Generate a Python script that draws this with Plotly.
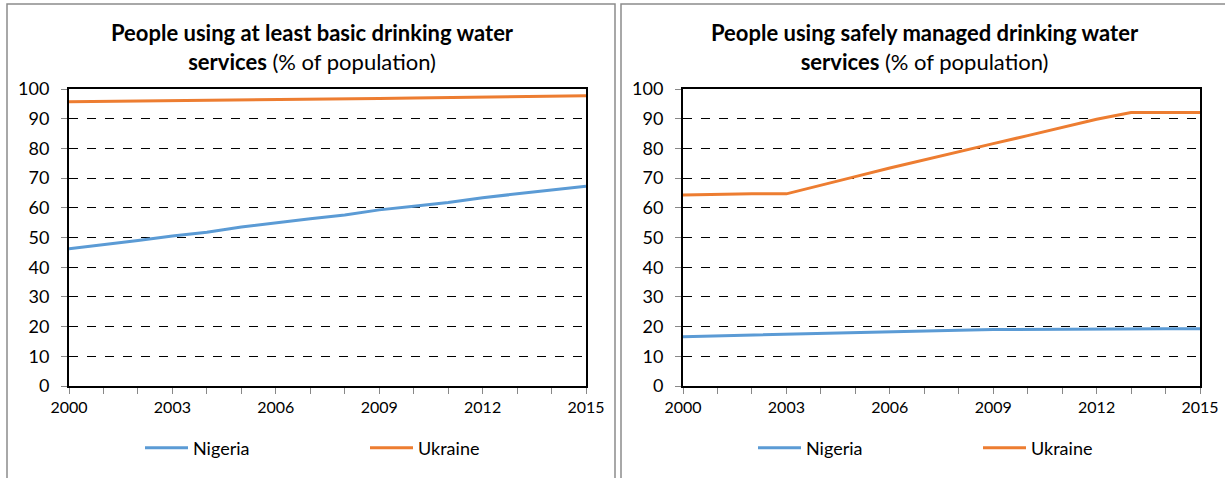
import plotly.graph_objects as go

years = list(range(2000, 2016))

basic_nigeria = [46.2, 47.5, 49.0, 50.5, 51.8, 53.5, 55.0, 56.3, 57.6, 59.3, 60.5, 61.8, 63.4, 64.8, 66.0, 67.3]
basic_ukraine = [95.7, 95.8, 96.0, 96.1, 96.2, 96.3, 96.4, 96.6, 96.7, 96.8, 97.0, 97.1, 97.3, 97.5, 97.6, 97.7]

safe_nigeria = [16.6, 16.9, 17.2, 17.5, 17.8, 18.1, 18.4, 18.6, 18.8, 19.0, 19.1, 19.2, 19.2, 19.3, 19.3, 19.3]
safe_ukraine = [64.3, 64.6, 64.7, 64.7, 67.5, 70.5, 73.4, 76.2, 78.9, 81.6, 84.3, 87.0, 89.8, 92.1, 92.1, 92.1]

tick_vals = years
tick_text = [str(y) if (y - 2000) % 3 == 0 else "" for y in years]
y_ticks = list(range(0, 101, 10))

titles = [
    "<b>People using at least basic drinking water</b><br><b>services</b> (% of population)",
    "<b>People using safely managed drinking water</b><br><b>services</b> (% of population)",
]

BLUE = "#5B9BD5"
ORANGE = "#ED7D31"
FONT = "Lato"
W, H = 1225, 478

fig = go.Figure()

fig.add_trace(go.Scatter(x=years, y=basic_nigeria, name="Nigeria", mode="lines",
                         line=dict(color=BLUE, width=3), xaxis="x", yaxis="y", legend="legend"))
fig.add_trace(go.Scatter(x=years, y=basic_ukraine, name="Ukraine", mode="lines",
                         line=dict(color=ORANGE, width=3), xaxis="x", yaxis="y", legend="legend"))
fig.add_trace(go.Scatter(x=years, y=safe_nigeria, name="Nigeria", mode="lines",
                         line=dict(color=BLUE, width=3), xaxis="x2", yaxis="y2", legend="legend2"))
fig.add_trace(go.Scatter(x=years, y=safe_ukraine, name="Ukraine", mode="lines",
                         line=dict(color=ORANGE, width=3), xaxis="x2", yaxis="y2", legend="legend2"))

ydom = [1 - 386 / H, 1 - 89 / H]

def xaxis(dom, anchor):
    return dict(domain=dom, anchor=anchor, range=[2000, 2015], tickmode="array",
                tickvals=tick_vals, ticktext=tick_text, ticks="outside", ticklen=6,
                tickcolor="#888888", tickwidth=1, showgrid=False, zeroline=False,
                showline=True, linecolor="black", linewidth=2, mirror=True,
                tickfont=dict(family=FONT, size=16, color="black"))

def yaxis(anchor):
    return dict(domain=ydom, anchor=anchor, range=[0, 100], tickmode="array",
                tickvals=y_ticks, ticks="outside", ticklen=6, tickcolor="#888888",
                tickwidth=1, showgrid=True, gridcolor="black", gridwidth=1, griddash="dash",
                zeroline=False, showline=True, linecolor="black", linewidth=2, mirror=True,
                ticklabelstandoff=8,
                tickfont=dict(family=FONT, size=18, color="black"))

legend_common = dict(orientation="h", yanchor="middle", y=1 - 448 / H, xanchor="left",
                     font=dict(family=FONT, size=18, color="black"), itemwidth=43,
                     entrywidth=167, entrywidthmode="pixels", bgcolor="rgba(0,0,0,0)")

fig.update_layout(
    width=W, height=H, margin=dict(l=0, r=0, t=0, b=0, autoexpand=False),
    paper_bgcolor="white", plot_bgcolor="white",
    xaxis=xaxis([69 / W, 586 / W], "y"),
    yaxis=yaxis("x"),
    xaxis2=xaxis([683 / W, 1200 / W], "y2"),
    yaxis2=yaxis("x2"),
    legend=dict(x=140 / W, **legend_common),
    legend2=dict(x=753 / W, **legend_common),
    showlegend=True,
    shapes=[
        dict(type="rect", xref="paper", yref="paper", x0=7 / W, x1=615 / W,
             y0=-0.05, y1=1 - 4 / H, line=dict(color="#8c8c8c", width=1.5)),
        dict(type="rect", xref="paper", yref="paper", x0=621 / W, x1=1.05,
             y0=-0.05, y1=1 - 4 / H, line=dict(color="#8c8c8c", width=1.5)),
    ],
    annotations=[
        dict(text=titles[0], xref="paper", yref="paper", x=312 / W, y=1 - 47 / H,
             xanchor="center", yanchor="middle", showarrow=False,
             font=dict(family=FONT, size=22, color="black")),
        dict(text=titles[1], xref="paper", yref="paper", x=925 / W, y=1 - 47 / H,
             xanchor="center", yanchor="middle", showarrow=False,
             font=dict(family=FONT, size=22, color="black")),
    ],
)

fig.write_html("out.html")
